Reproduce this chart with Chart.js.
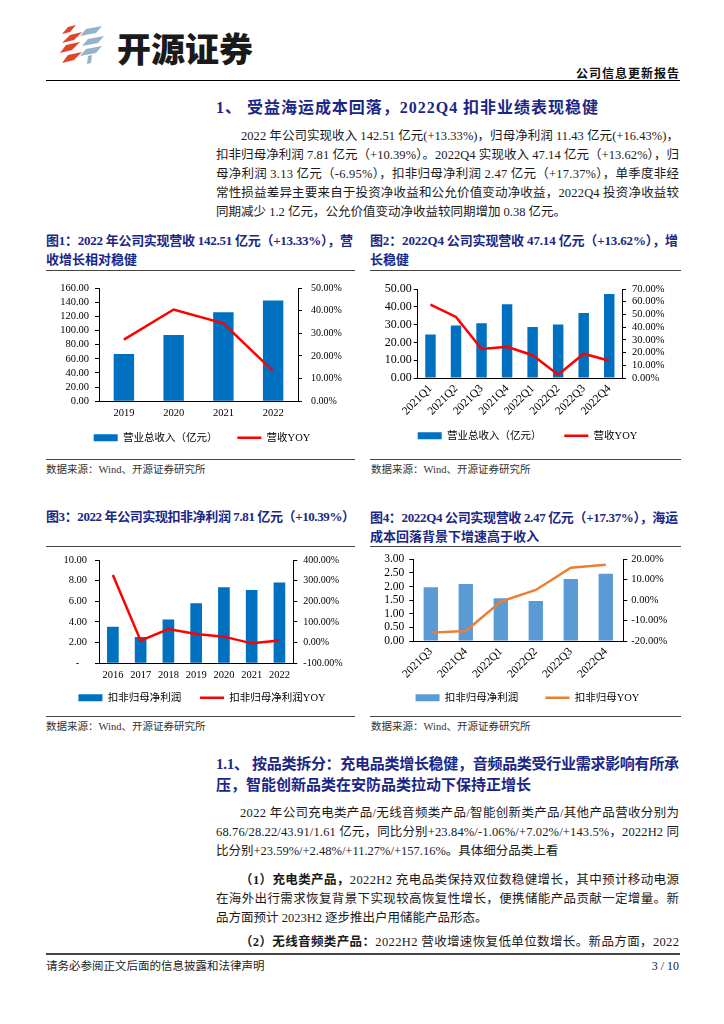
<!DOCTYPE html>
<html><head><meta charset="utf-8">
<script src="https://cdn.jsdelivr.net/npm/chart.js@4/dist/chart.umd.min.js"></script>
<style>
html,body{margin:0;padding:0;background:#fff;}
body{width:724px;height:1024px;position:relative;overflow:hidden;font-family:"Liberation Serif","Noto Sans CJK SC",serif;color:#1a1a1a;}
.a{position:absolute;white-space:nowrap;line-height:20px;height:20px;}
.ln{position:absolute;}
.tt{color:#1B2785;font-weight:bold;}
.bd{font-size:12.5px;}
.src{font-size:10.5px;color:#333;}
canvas{position:absolute;}
</style></head><body>

<svg class="ln" style="left:60px;top:25px" width="48" height="40" viewBox="0 0 48 40">
  <g fill="#E0452B">
    <polygon points="8,2 16,0 10,7 2,9"/>
    <polygon points="10,10 22,7 14,15 2,18"/>
    <polygon points="6,20 20,17 12,25 0,28"/>
    <polygon points="8,30 22,27 14,35 2,38"/>
  </g>
  <g fill="#93B4CA">
    <polygon points="26,4 42,1 36,8 20,11"/>
    <polygon points="28,14 44,11 38,18 22,21"/>
    <polygon points="26,24 42,21 36,28 20,31"/>
    <polygon points="28,31 32,30 31,38 27,39"/>
  </g>
</svg>
<div class="a" style="left:117px;top:30px;height:36px;line-height:36px;font-size:34px;font-weight:900;font-family:'Noto Sans CJK SC';color:#1a1a1a;">开源证券</div>
<div class="a j" data-w="103" style="left:576px;top:63px;font-size:12px;font-weight:bold;font-family:'Noto Sans CJK SC';color:#111;">公司信息更新报告</div>
<div class="ln" style="left:46px;top:79.5px;width:634px;height:1.5px;background:#000;"></div>

<div class="a tt j" data-w="382" style="left:216px;top:98px;font-size:16px;">1、 受益海运成本回落，2022Q4 扣非业绩表现稳健</div>
<div class="a bd j" data-w="438" style="left:241px;top:126px;">2022 年公司实现收入 142.51 亿元(+13.33%)，归母净利润 11.43 亿元(+16.43%)，</div>
<div class="a bd j" data-w="463" style="left:216px;top:145px;">扣非归母净利润 7.81 亿元（+10.39%）。2022Q4 实现收入 47.14 亿元（+13.62%），归</div>
<div class="a bd j" data-w="463" style="left:216px;top:164px;">母净利润 3.13 亿元（-6.95%），扣非归母净利润 2.47 亿元（+17.37%），单季度非经</div>
<div class="a bd j" data-w="463" style="left:216px;top:183px;">常性损益差异主要来自于投资净收益和公允价值变动净收益，2022Q4 投资净收益较</div>
<div class="a bd" style="left:216px;top:202px;">同期减少 1.2 亿元，公允价值变动净收益较同期增加 0.38 亿元。</div>

<div class="a tt j" data-w="307" style="left:46px;top:231px;font-size:13px;">图1：2022 年公司实现营收 142.51 亿元（+13.33%），营</div>
<div class="a tt" style="left:46px;top:250px;font-size:13px;">收增长相对稳健</div>
<div class="a tt j" data-w="308" style="left:370px;top:231px;font-size:13px;">图2：2022Q4 公司实现营收 47.14 亿元（+13.62%），增</div>
<div class="a tt" style="left:370px;top:250px;font-size:13px;">长稳健</div>
<div class="ln" style="left:46px;top:269.5px;width:309px;height:1.2px;background:#444;"></div>
<div class="ln" style="left:370px;top:269.5px;width:311px;height:1.2px;background:#444;"></div>

<canvas id="c1" width="312" height="181" style="left:46px;top:272px;width:312px;height:181px;"></canvas>
<canvas id="c2" width="315" height="179" style="left:370px;top:272px;width:315px;height:179px;"></canvas>

<div class="ln" style="left:46px;top:458.5px;width:309px;height:1.5px;background:#444;"></div>
<div class="ln" style="left:370px;top:458.5px;width:311px;height:1.5px;background:#444;"></div>
<div class="a src" style="left:46px;top:460px;">数据来源：Wind、开源证券研究所</div>
<div class="a src" style="left:371px;top:460px;">数据来源：Wind、开源证券研究所</div>

<div class="a tt j" data-w="309" style="left:46px;top:507px;font-size:13px;">图3：2022 年公司实现扣非净利润 7.81 亿元（+10.39%）</div>
<div class="a tt j" data-w="308" style="left:370px;top:508px;font-size:13px;">图4：2022Q4 公司实现营收 2.47 亿元（+17.37%），海运</div>
<div class="a tt" style="left:370px;top:527px;font-size:13px;">成本回落背景下增速高于收入</div>
<div class="ln" style="left:46px;top:545.5px;width:309px;height:1.2px;background:#444;"></div>
<div class="ln" style="left:370px;top:545.5px;width:311px;height:1.2px;background:#444;"></div>

<canvas id="c3" width="312" height="168" style="left:46px;top:545px;width:312px;height:168px;"></canvas>
<canvas id="c4" width="315" height="168" style="left:370px;top:545px;width:315px;height:168px;"></canvas>

<div class="ln" style="left:46px;top:715.5px;width:309px;height:1.5px;background:#444;"></div>
<div class="ln" style="left:370px;top:715.5px;width:311px;height:1.5px;background:#444;"></div>
<div class="a src" style="left:46px;top:717px;">数据来源：Wind、开源证券研究所</div>
<div class="a src" style="left:371px;top:717px;">数据来源：Wind、开源证券研究所</div>

<div class="a tt j" data-w="463" style="left:216px;top:754px;font-size:15px;">1.1、 按品类拆分：充电品类增长稳健，音频品类受行业需求影响有所承</div>
<div class="a tt" style="left:216px;top:775px;font-size:15px;">压，智能创新品类在安防品类拉动下保持正增长</div>
<div class="a bd j" data-w="439" style="left:240px;top:803px;">2022 年公司充电类产品/无线音频类产品/智能创新类产品/其他产品营收分别为</div>
<div class="a bd j" data-w="463" style="left:216px;top:822px;">68.76/28.22/43.91/1.61 亿元，同比分别+23.84%/-1.06%/+7.02%/+143.5%，2022H2 同</div>
<div class="a bd" style="left:216px;top:841px;">比分别+23.59%/+2.48%/+11.27%/+157.16%。具体细分品类上看</div>
<div class="a bd j" data-w="439" style="left:240px;top:870px;"><b>（1）充电类产品，</b>2022H2 充电品类保持双位数稳健增长，其中预计移动电源</div>
<div class="a bd j" data-w="463" style="left:216px;top:889px;">在海外出行需求恢复背景下实现较高恢复性增长，便携储能产品贡献一定增量。新</div>
<div class="a bd" style="left:216px;top:908px;">品方面预计 2023H2 逐步推出户用储能产品形态。</div>
<div class="a bd j" data-w="439" style="left:240px;top:932px;"><b>（2）无线音频类产品：</b>2022H2 营收增速恢复低单位数增长。新品方面，2022</div>

<div class="ln" style="left:46px;top:953px;width:634px;height:2px;background:#444;"></div>
<div class="a" style="left:46px;top:956px;font-size:11.5px;color:#222;">请务必参阅正文后面的信息披露和法律声明</div>
<div class="a" style="right:45px;top:956px;font-size:12px;color:#222;">3 / 10</div>

<script>
// ---------- data ----------
const fig1Years = ['2019', '2020', '2021', '2022'];
const fig1Revenue = [66.8, 93.5, 125.7, 142.51];
const fig1RevenueYoy = [27.2, 40.5, 34.4, 13.33];

const fig2Quarters = ['2021Q1', '2021Q2', '2021Q3', '2021Q4', '2022Q1', '2022Q2', '2022Q3', '2022Q4'];
const fig2Revenue = [24.4, 29.5, 30.7, 41.5, 28.7, 30.1, 36.5, 47.14];
const fig2RevenueYoy = [57.8, 48.0, 22.8, 24.6, 17.9, 2.6, 19.1, 13.62];

const fig3Years = ['2016', '2017', '2018', '2019', '2020', '2021', '2022'];
const fig3NetProfit = [3.55, 2.55, 4.23, 5.81, 7.35, 7.10, 7.81];
const fig3NetProfitYoy = [327, 9.7, 66, 42, 29, -3.4, 10.39];

const fig4Quarters = ['2021Q3', '2021Q4', '2022Q1', '2022Q2', '2022Q3', '2022Q4'];
const fig4NetProfit = [1.97, 2.09, 1.57, 1.47, 2.28, 2.47];
const fig4NetProfitYoy = [-15.9, -15.1, -0.7, 5.0, 15.9, 17.37];

// ---------- text justification ----------
document.querySelectorAll('.j').forEach(el => {
  const w = parseFloat(el.dataset.w);
  el.style.letterSpacing = '0px';
  const nat = el.getBoundingClientRect().width;
  const n = Array.from(el.textContent).length;
  el.style.letterSpacing = ((w - nat) / (n - 1)) + 'px';
});

// ---------- charts ----------
Chart.defaults.font.family = '"Liberation Serif", "Noto Sans CJK SC", serif';
Chart.defaults.color = '#000';

function legendLabels(chart) {
  const items = Chart.defaults.plugins.legend.labels.generateLabels(chart);
  items.sort((a, b) => a.datasetIndex - b.datasetIndex);
  items.forEach(it => {
    const ds = chart.data.datasets[it.datasetIndex];
    if (ds.type === 'line') {
      it.pointStyle = 'line'; it.lineWidth = 2.5; it.strokeStyle = ds.borderColor;
    } else {
      it.pointStyle = 'rect'; it.fillStyle = ds.backgroundColor; it.strokeStyle = ds.backgroundColor; it.lineWidth = 0;
      it.text = it.text + ' '.repeat(chart.options.plugins.legend.labels.gapSpaces || 0);
    }
  });
  return items;
}

function combo(id, o) {
  return new Chart(document.getElementById(id), {
    type: 'bar',
    data: {
      labels: o.labels,
      datasets: [
        { type: 'bar', label: o.barLabel, data: o.bars, backgroundColor: o.barColor, borderWidth: 0,
          barPercentage: o.barPct, categoryPercentage: 1, yAxisID: 'y', order: 2 },
        { type: 'line', label: o.lineLabel, data: o.line, borderColor: o.lineColor, backgroundColor: o.lineColor,
          borderWidth: 2.5, pointRadius: 0, tension: 0, yAxisID: 'y1', order: 1 }
      ]
    },
    options: {
      responsive: false, animation: false, devicePixelRatio: 1, events: [],
      layout: { padding: { top: o.padTop, left: 0, right: 0, bottom: 0 } },
      plugins: {
        tooltip: { enabled: false },
        legend: { position: 'bottom',
          labels: { usePointStyle: true, pointStyleWidth: 24, boxHeight: 7, padding: o.legPad, gapSpaces: o.gapSpaces,
                    color: '#000', font: { size: 10.5 }, generateLabels: legendLabels } }
      },
      scales: {
        x: {
          grid: { display: false, drawTicks: false }, border: { color: '#000', width: 1 },
          ticks: { color: '#000', padding: o.xPad, font: { size: o.xFont }, autoSkip: false,
                   maxRotation: o.rot, minRotation: o.rot },
          afterFit: s => { s.height = o.xH; }
        },
        y: {
          position: 'left', min: o.yL[0], max: o.yL[1],
          ticks: { stepSize: o.yL[2], autoSkip: false, color: '#000', padding: o.yLPad, font: { size: o.yLFont }, callback: o.yLFmt },
          grid: { drawOnChartArea: false, tickLength: 4, color: '#000' }, border: { color: '#000', width: 1 },
          afterFit: s => { s.width = o.yLW; }
        },
        y1: {
          position: 'right', min: o.yR[0], max: o.yR[1],
          ticks: { stepSize: o.yR[2], autoSkip: false, color: '#000', padding: o.yRPad, font: { size: o.yRFont },
                   callback: v => v.toFixed(2) + '%' },
          grid: { drawOnChartArea: false, tickLength: 4, color: '#000' }, border: { color: '#000', width: 1 },
          afterFit: s => { s.width = o.yRW; }
        }
      }
    }
  });
}

const fmt2 = v => v.toFixed(2);

combo('c1', {
  labels: fig1Years, bars: fig1Revenue, line: fig1RevenueYoy,
  barLabel: '营业总收入（亿元）', lineLabel: '营收YOY', barColor: '#0070C0', lineColor: '#FF0000',
  barPct: 0.41, padTop: 16, legPad: 12, gapSpaces: 3, xPad: 6, xFont: 10.5, rot: 0, xH: 19.2,
  yL: [0, 160, 20], yLPad: 6, yLFont: 10.5, yLFmt: fmt2, yLW: 53,
  yR: [0, 50, 10], yRPad: 9, yRFont: 10, yRW: 60
});

combo('c2', {
  labels: fig2Quarters, bars: fig2Revenue, line: fig2RevenueYoy,
  barLabel: '营业总收入（亿元）', lineLabel: '营收YOY', barColor: '#0070C0', lineColor: '#FF0000',
  barPct: 0.41, padTop: 17, legPad: 15, gapSpaces: 3, xPad: 4, xFont: 11.5, rot: 45, xH: 37.5,
  yL: [0, 50, 10], yLPad: 2, yLFont: 12, yLFmt: fmt2, yLW: 47.7,
  yR: [0, 70, 10], yRPad: 6, yRFont: 10.5, yRW: 63
});

combo('c3', {
  labels: fig3Years, bars: fig3NetProfit, line: fig3NetProfitYoy,
  barLabel: '扣非归母净利润', lineLabel: '扣非归母净利润YOY', barColor: '#0070C0', lineColor: '#FF0000',
  barPct: 0.42, padTop: 15, legPad: 11, gapSpaces: 3, xPad: 6, xFont: 10.5, rot: 0, xH: 18.2,
  yL: [0, 10, 2], yLPad: 8, yLFont: 10.5, yLFmt: v => (v === 0 ? '-   ' : v.toFixed(2)), yLW: 53,
  yR: [-100, 400, 100], yRPad: 6, yRFont: 10, yRW: 64.7
});

combo('c4', {
  labels: fig4Quarters, bars: fig4NetProfit, line: fig4NetProfitYoy,
  barLabel: '扣非归母净利润', lineLabel: '扣非归母YOY', barColor: '#5B9BD5', lineColor: '#ED7D31',
  barPct: 0.41, padTop: 14.3, legPad: 14, gapSpaces: 5, xPad: 4, xFont: 11.5, rot: 45, xH: 37.5,
  yL: [0, 3, 0.5], yLPad: 5, yLFont: 11.5, yLFmt: fmt2, yLW: 43.3,
  yR: [-20, 20, 10], yRPad: 4, yRFont: 10.5, yRW: 61.7
});
</script>
</body></html>
